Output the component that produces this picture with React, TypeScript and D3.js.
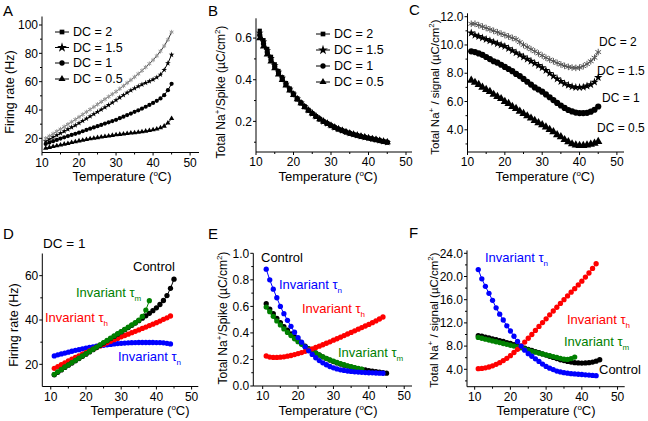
import React from 'react';
import * as d3 from 'd3';

const FONT = '"Liberation Sans", Arial, Helvetica, sans-serif';

// temperatures (°C)
const temps = [11,12,13,14,15,16,17,18,19,20,21,22,23,24,25,26,27,28,29,30,31,32,33,34,35,36,37,38,39,40,41,42,43,44,45];

// Panel A: firing rate (Hz)
const aDC2 = [20,21.6,23.2,24.9,26.5,28.2,29.9,31.6,33.3,35,36.8,38.6,40.4,42.2,44,45.8,47.6,49.4,51.2,53,55,57,59.1,61.2,63.3,65.5,67.8,70.2,72.7,75.3,78.2,81.5,85.2,89.6,95];
const aDC15 = [18,19.4,20.8,22.2,23.6,25,26.4,27.8,29.2,30.7,32.3,33.9,35.5,37.1,38.7,40.3,41.9,43.5,45.2,47,48.8,50.5,52.2,53.8,55.3,56.7,58,59.2,60.3,61.5,63,65,68.3,73,79];
const aDC1 = [16,17,18,18.9,19.8,20.7,21.6,22.4,23.2,24,25,25.9,26.8,27.7,28.6,29.5,30.4,31.3,32.2,33.1,34.2,35.3,36.4,37.5,38.7,39.8,41,42.3,43.6,45,46.5,48.2,50.5,54,58.5];
const aDC05 = [13,13.6,14.2,14.8,15.3,15.9,16.4,17,17.6,18.2,18.7,19.2,19.7,20.1,20.5,20.9,21.3,21.7,22.1,22.5,22.8,23.1,23.4,23.7,24,24.3,24.7,25.1,25.5,26,26.6,27.4,28.6,30.8,34];

// Panel B: total Na+/spike
const bDC2 = [0.635,0.59,0.548,0.51,0.474,0.442,0.412,0.384,0.358,0.334,0.311,0.291,0.272,0.255,0.239,0.225,0.212,0.2,0.19,0.18,0.171,0.163,0.156,0.149,0.143,0.138,0.133,0.128,0.124,0.12,0.116,0.112,0.108,0.104,0.1];
const bDC15 = [0.625,0.582,0.54,0.503,0.468,0.437,0.408,0.38,0.355,0.331,0.309,0.289,0.271,0.254,0.238,0.224,0.211,0.2,0.19,0.18,0.171,0.163,0.156,0.149,0.143,0.138,0.133,0.128,0.124,0.12,0.116,0.112,0.108,0.104,0.1];
const bDC1 = [0.615,0.573,0.533,0.497,0.463,0.432,0.404,0.377,0.352,0.329,0.307,0.288,0.27,0.253,0.238,0.224,0.211,0.2,0.19,0.18,0.171,0.163,0.156,0.149,0.143,0.138,0.133,0.128,0.124,0.12,0.116,0.112,0.108,0.104,0.1];
const bDC05 = [0.6,0.56,0.522,0.488,0.456,0.426,0.399,0.373,0.349,0.327,0.306,0.287,0.269,0.253,0.238,0.224,0.211,0.2,0.19,0.18,0.171,0.163,0.156,0.149,0.143,0.138,0.133,0.128,0.124,0.12,0.116,0.112,0.108,0.104,0.1];

// Panel C: total Na+/signal
const cDC2 = [11.5,11.5,11.4,11.3,11.2,11.1,11.0,10.9,10.8,10.7,10.6,10.5,10.4,10.2,10.0,9.85,9.7,9.55,9.4,9.25,9.1,8.97,8.85,8.73,8.62,8.52,8.45,8.4,8.38,8.4,8.5,8.65,8.85,9.1,9.5];
const cDC15 = [10.85,10.7,10.6,10.5,10.4,10.3,10.2,10.1,10.0,9.9,9.75,9.6,9.45,9.3,9.15,9.0,8.85,8.7,8.55,8.4,8.2,8.0,7.8,7.6,7.42,7.27,7.15,7.05,7.0,7.0,7.02,7.1,7.2,7.38,7.7];
const cDC1 = [9.55,9.5,9.4,9.3,9.15,9.0,8.85,8.75,8.6,8.45,8.3,8.15,7.95,7.8,7.6,7.4,7.2,7.0,6.85,6.7,6.5,6.3,6.1,5.9,5.72,5.55,5.4,5.3,5.22,5.18,5.18,5.2,5.28,5.42,5.65];
const cDC05 = [7.5,7.35,7.2,7.0,6.85,6.7,6.5,6.35,6.2,6.0,5.85,5.65,5.5,5.3,5.15,4.98,4.82,4.65,4.5,4.35,4.2,4.02,3.85,3.65,3.5,3.3,3.15,3.0,2.92,2.88,2.88,2.92,2.98,3.05,3.17];

// Panel D: firing rate, DC = 1
const dControl = [15.3,16.4,17.5,18.6,19.6,20.6,21.6,22.6,23.6,24.6,25.6,26.6,27.6,28.6,29.6,30.6,31.6,32.6,33.6,34.6,35.6,36.6,37.6,38.6,39.7,40.8,41.9,43,44.2,45.5,47,48.8,51,54.3,58.4];
const dTauM = [15.5,16.6,17.7,18.8,19.8,20.8,21.8,22.8,23.8,24.8,25.8,26.8,27.8,28.8,29.8,30.8,31.8,32.8,33.8,34.8,35.8,36.8,37.8,38.8,39.9,41.6,44.5,48.7];
const dTauH = [18.2,19.0,19.9,20.7,21.5,22.3,23.1,23.8,24.6,25.3,26.1,26.8,27.6,28.3,29.0,29.7,30.4,31.1,31.7,32.4,33.0,33.6,34.3,34.9,35.5,36.2,36.8,37.5,38.1,38.8,39.5,40.3,41.0,41.8];
const dTauN = [23.8,24.3,24.7,25.1,25.5,25.9,26.3,26.6,27.0,27.3,27.6,27.9,28.2,28.4,28.6,28.8,29.0,29.2,29.35,29.5,29.6,29.7,29.75,29.8,29.85,29.85,29.85,29.85,29.85,29.8,29.8,29.7,29.5,29.2];

// Panel E: total Na+/spike, DC = 1
const eControl = [0.62,0.58,0.545,0.51,0.478,0.448,0.42,0.393,0.368,0.345,0.322,0.301,0.282,0.265,0.249,0.234,0.22,0.207,0.195,0.184,0.174,0.165,0.157,0.15,0.143,0.137,0.131,0.126,0.121,0.116,0.112,0.108,0.104,0.1,0.097];
const eTauM = [0.595,0.56,0.525,0.49,0.46,0.43,0.404,0.38,0.356,0.334,0.314,0.295,0.278,0.262,0.247,0.233,0.22,0.208,0.197,0.187,0.177,0.168,0.16,0.152,0.145,0.139,0.133,0.127];
const eTauH = [0.226,0.218,0.215,0.215,0.217,0.22,0.225,0.23,0.237,0.244,0.252,0.261,0.27,0.28,0.29,0.3,0.311,0.322,0.333,0.345,0.356,0.368,0.38,0.392,0.404,0.416,0.428,0.44,0.452,0.464,0.477,0.49,0.505,0.52];
const eTauN = [0.88,0.80,0.73,0.665,0.60,0.545,0.495,0.45,0.405,0.365,0.33,0.295,0.265,0.238,0.213,0.192,0.175,0.16,0.147,0.137,0.129,0.122,0.117,0.113,0.11,0.107,0.105,0.103,0.101,0.1,0.099,0.098,0.097,0.096];

// Panel F: total Na+/signal, DC = 1
const fControl = [9.8,9.7,9.55,9.4,9.25,9.1,8.95,8.8,8.6,8.45,8.25,8.05,7.85,7.65,7.45,7.25,7.05,6.85,6.65,6.45,6.25,6.05,5.85,5.65,5.5,5.35,5.25,5.15,5.1,5.08,5.1,5.15,5.25,5.4,5.65];
const fTauM = [9.5,9.35,9.2,9.05,8.9,8.75,8.6,8.45,8.3,8.15,8.0,7.85,7.7,7.5,7.3,7.1,6.95,6.8,6.65,6.5,6.35,6.2,6.05,5.9,5.75,5.7,5.85,6.1];
const fTauH = [4.1,4.15,4.25,4.4,4.6,4.85,5.15,5.5,5.9,6.35,6.9,7.45,8.05,8.7,9.35,10.0,10.7,11.4,12.05,12.7,13.4,14.05,14.7,15.35,16.0,16.65,17.3,17.9,18.55,19.2,19.9,20.6,21.4,22.2];
const fTauN = [21.2,19.6,18.3,17.1,15.9,14.6,13.5,12.5,11.5,10.6,9.7,8.8,8.0,7.3,6.7,6.25,5.8,5.35,4.9,4.5,4.2,3.95,3.7,3.55,3.42,3.33,3.25,3.2,3.15,3.1,3.05,3.0,2.95,2.9];

const dcLabels = ['DC = 2', 'DC = 1.5', 'DC = 1', 'DC = 0.5'];
const xTickVals = [10, 20, 30, 40, 50];
const xMinorVals = [15, 25, 35, 45];

const RED = '#ff0000';
const BLUE = '#0000ff';
const GREEN = '#008000';
const BLACK = '#000000';

type SymKind = 'circle' | 'star' | 'triangle' | 'asterisk' | 'square';
type Series = { values: number[]; color: string; sym: SymKind; size: number; mfill?: string; lw?: number };

const symTypes: Record<SymKind, any> = {
  circle: d3.symbolCircle,
  star: d3.symbolStar,
  triangle: d3.symbolTriangle,
  asterisk: (d3 as any).symbolAsterisk || d3.symbolCross,
  square: d3.symbolSquare,
};

function symPath(kind: SymKind, size: number) {
  return d3.symbol().type(symTypes[kind]).size(size)() || '';
}

function Marker({ kind, size, color, x, y }: { kind: SymKind; size: number; color: string; x: number; y: number }) {
  const p = symPath(kind, size);
  if (kind === 'asterisk') {
    return <path d={p} transform={`translate(${x},${y})`} fill="none" stroke={color} strokeWidth={1} />;
  }
  return <path d={p} transform={`translate(${x},${y})`} fill={color} stroke="none" />;
}

type PanelProps = {
  xd: [number, number]; xr: [number, number];
  yd: [number, number]; yr: [number, number];
  yTicks: number[]; yMinor: number[]; fmt: (v: number) => string;
  series: Series[];
};

function Panel({ xd, xr, yd, yr, yTicks, yMinor, fmt, series }: PanelProps) {
  const x = d3.scaleLinear().domain(xd).range(xr);
  const y = d3.scaleLinear().domain(yd).range(yr);
  const x0 = xr[0];
  const y0 = yr[0];
  const line = d3.line<number>().x((_, i) => x(temps[i])).y((v) => y(v));
  return (
    <g>
      {series.map((s, si) => (
        <g key={si}>
          <path d={line(s.values) || ''} fill="none" stroke={s.color} strokeWidth={s.lw ?? 1} />
          {s.values.map((v, i) => (
            <Marker key={i} kind={s.sym} size={s.size} color={s.mfill ?? s.color} x={x(temps[i])} y={y(v)} />
          ))}
        </g>
      ))}
      <line x1={x0} x2={x0} y1={yr[0]} y2={yr[1]} stroke="#000" strokeWidth={1} />
      <line x1={xr[0]} x2={xr[1]} y1={y0} y2={y0} stroke="#000" strokeWidth={1} />
      {yTicks.map((t) => (
        <g key={'yt' + t}>
          <line x1={x0 - 3} x2={x0} y1={y(t)} y2={y(t)} stroke="#000" />
          <text x={x0 - 4} y={y(t)} dy="0.35em" textAnchor="end" fontSize={12}>{fmt(t)}</text>
        </g>
      ))}
      {yMinor.map((t) => (
        <line key={'ym' + t} x1={x0 - 2} x2={x0} y1={y(t)} y2={y(t)} stroke="#000" />
      ))}
      {xTickVals.map((t) => (
        <g key={'xt' + t}>
          <line x1={x(t)} x2={x(t)} y1={y0} y2={y0 + 3} stroke="#000" />
          <text x={x(t)} y={y0 + 14} textAnchor="middle" fontSize={12}>{t}</text>
        </g>
      ))}
      {xMinorVals.map((t) => (
        <line key={'xm' + t} x1={x(t)} x2={x(t)} y1={y0} y2={y0 + 2} stroke="#000" />
      ))}
    </g>
  );
}

function XTitle({ cx, y }: { cx: number; y: number }) {
  return (
    <text x={cx} y={y} textAnchor="middle" fontSize={13}>
      Temperature (<tspan fontSize={8} dy={-5}>o</tspan><tspan dy={5}>C)</tspan>
    </text>
  );
}

function YTitleSpike({ x, cy }: { x: number; cy: number }) {
  return (
    <text transform={`translate(${x},${cy}) rotate(-90)`} textAnchor="middle" fontSize={12}>
      Total Na<tspan fontSize={8} dy={-5}>+</tspan><tspan dy={5}>/Spike (µC/cm</tspan><tspan fontSize={8} dy={-5}>2</tspan><tspan dy={5}>)</tspan>
    </text>
  );
}

function YTitleSignal({ x, cy }: { x: number; cy: number }) {
  return (
    <text transform={`translate(${x},${cy}) rotate(-90)`} textAnchor="middle" fontSize={11.5}>
      Total Na<tspan fontSize={8} dy={-5}>+</tspan><tspan dy={5}> / signal (µC/cm</tspan><tspan fontSize={8} dy={-5}>2</tspan><tspan dy={5}>)</tspan>
    </text>
  );
}

function YTitleRate({ x, cy }: { x: number; cy: number }) {
  return (
    <text transform={`translate(${x},${cy}) rotate(-90)`} textAnchor="middle" fontSize={12.5}>
      Firing rate (Hz)
    </text>
  );
}

function TauLabel({ x, y, sub, color }: { x: number; y: number; sub: string; color: string }) {
  return (
    <text x={x} y={y} fontSize={13} fill={color}>
      Invariant τ<tspan fontSize={8} dy={4}>{sub}</tspan>
    </text>
  );
}

const legendSyms: SymKind[] = ['square', 'star', 'circle', 'triangle'];

function Legend({ x, ys }: { x: number; ys: number[] }) {
  return (
    <g>
      {dcLabels.map((lab, i) => (
        <g key={lab}>
          <line x1={x} x2={x + 14} y1={ys[i]} y2={ys[i]} stroke="#000" />
          <Marker kind={legendSyms[i]} size={i === 1 ? 30 : 22} color="#000" x={x + 7} y={ys[i]} />
          <text x={x + 18} y={ys[i]} dy="0.35em" fontSize={12.5}>{lab}</text>
        </g>
      ))}
    </g>
  );
}

export default function App() {
  const f0 = (v: number) => d3.format('d')(v);
  const f1 = (v: number) => d3.format('.1f')(v);
  return (
    <svg width={648} height={421} style={{ position: 'absolute', left: 0, top: 0, background: '#fff' }} fontFamily={FONT}>
      <rect x={0} y={0} width={648} height={421} fill="#fff" />
      {/* Panel letters */}
      <text x={3} y={16} fontSize={15}>A</text>
      <text x={208} y={16} fontSize={15}>B</text>
      <text x={409} y={15} fontSize={15}>C</text>
      <text x={3} y={239} fontSize={15}>D</text>
      <text x={208} y={239} fontSize={15}>E</text>
      <text x={409} y={238} fontSize={15}>F</text>

      {/* A */}
      <Panel xd={[10, 52.4]} xr={[42, 199]} yd={[10, 106]} yr={[152.5, 16.5]}
        yTicks={[20, 40, 60, 80, 100]} yMinor={[30, 50, 70, 90]} fmt={f0}
        series={[
          { values: aDC05, color: BLACK, sym: 'triangle', size: 12 },
          { values: aDC1, color: BLACK, sym: 'circle', size: 14 },
          { values: aDC15, color: BLACK, sym: 'star', size: 10 },
          { values: aDC2, color: '#333', sym: 'asterisk', size: 14, mfill: '#999' },
        ]} />
      <Legend x={55} ys={[32, 47.5, 63, 79]} />
      <YTitleRate x={14} cy={92} />
      <XTitle cx={122} y={181} />

      {/* B */}
      <Panel xd={[10, 51.6]} xr={[256, 412]} yd={[0.053, 0.695]} yr={[152, 18.3]}
        yTicks={[0.2, 0.4, 0.6]} yMinor={[0.1, 0.3, 0.5]} fmt={f1}
        series={[
          { values: bDC05, color: BLACK, sym: 'triangle', size: 22 },
          { values: bDC1, color: BLACK, sym: 'circle', size: 22 },
          { values: bDC15, color: BLACK, sym: 'star', size: 18 },
          { values: bDC2, color: BLACK, sym: 'square', size: 18 },
        ]} />
      <Legend x={316} ys={[34, 50, 66, 82]} />
      <YTitleSpike x={225} cy={92} />
      <XTitle cx={328} y={181} />

      {/* C */}
      <Panel xd={[10, 51.9]} xr={[467.5, 624]} yd={[2.43, 12.24]} yr={[152, 13.3]}
        yTicks={[4, 6, 8, 10, 12]} yMinor={[3, 5, 7, 9, 11]} fmt={f1}
        series={[
          { values: cDC05, color: BLACK, sym: 'triangle', size: 30 },
          { values: cDC1, color: BLACK, sym: 'circle', size: 30 },
          { values: cDC15, color: BLACK, sym: 'star', size: 22 },
          { values: cDC2, color: '#444', sym: 'asterisk', size: 30, mfill: '#555' },
        ]} />
      <text x={599} y={46} fontSize={12}>DC = 2</text>
      <text x={597} y={75} fontSize={12}>DC = 1.5</text>
      <text x={602} y={102} fontSize={12}>DC = 1</text>
      <text x={597} y={132} fontSize={12}>DC = 0.5</text>
      <YTitleSignal x={439} cy={87} />
      <XTitle cx={545} y={181} />

      {/* D */}
      <Panel xd={[7.6, 51.9]} xr={[42.3, 198.3]} yd={[10, 70]} yr={[386.5, 253.5]}
        yTicks={[20, 40, 60]} yMinor={[30, 50]} fmt={f0}
        series={[
          { values: dTauN, color: BLUE, sym: 'circle', size: 22 },
          { values: dTauH, color: RED, sym: 'circle', size: 22 },
          { values: dControl, color: BLACK, sym: 'circle', size: 22 },
          { values: dTauM, color: GREEN, sym: 'circle', size: 22 },
        ]} />
      <text x={43} y={248} fontSize={13.5}>DC = 1</text>
      <text x={133} y={271} fontSize={13}>Control</text>
      <TauLabel x={76} y={297} sub="m" color={GREEN} />
      <TauLabel x={45} y={322} sub="h" color={RED} />
      <TauLabel x={118} y={361} sub="n" color={BLUE} />
      <YTitleRate x={18} cy={325} />
      <XTitle cx={140} y={415} />

      {/* E */}
      <Panel xd={[7.35, 52.2]} xr={[253.3, 412]} yd={[0, 1]} yr={[386, 253.3]}
        yTicks={[0, 0.2, 0.4, 0.6, 0.8, 1.0]} yMinor={[0.1, 0.3, 0.5, 0.7, 0.9]} fmt={f1}
        series={[
          { values: eControl, color: BLACK, sym: 'circle', size: 22 },
          { values: eTauM, color: GREEN, sym: 'circle', size: 22 },
          { values: eTauH, color: RED, sym: 'circle', size: 22 },
          { values: eTauN, color: BLUE, sym: 'circle', size: 22 },
        ]} />
      <text x={261} y={262} fontSize={13}>Control</text>
      <TauLabel x={279} y={289} sub="n" color={BLUE} />
      <TauLabel x={302} y={313} sub="h" color={RED} />
      <TauLabel x={338} y={357} sub="m" color={GREEN} />
      <YTitleSpike x={227} cy={318} />
      <XTitle cx={328} y={415} />

      {/* F */}
      <Panel xd={[7.85, 52]} xr={[467, 624.7]} yd={[1, 24.5]} yr={[386.7, 250.4]}
        yTicks={[4, 8, 12, 16, 20, 24]} yMinor={[2, 6, 10, 14, 18, 22]} fmt={f1}
        series={[
          { values: fControl, color: BLACK, sym: 'circle', size: 22 },
          { values: fTauM, color: GREEN, sym: 'circle', size: 22 },
          { values: fTauH, color: RED, sym: 'circle', size: 22 },
          { values: fTauN, color: BLUE, sym: 'circle', size: 22 },
        ]} />
      <TauLabel x={485} y={262} sub="n" color={BLUE} />
      <TauLabel x={567} y={324} sub="h" color={RED} />
      <TauLabel x={564} y={346} sub="m" color={GREEN} />
      <text x={599} y={374} fontSize={13}>Control</text>
      <YTitleSignal x={438} cy={320} />
      <XTitle cx={546} y={415} />
    </svg>
  );
}
